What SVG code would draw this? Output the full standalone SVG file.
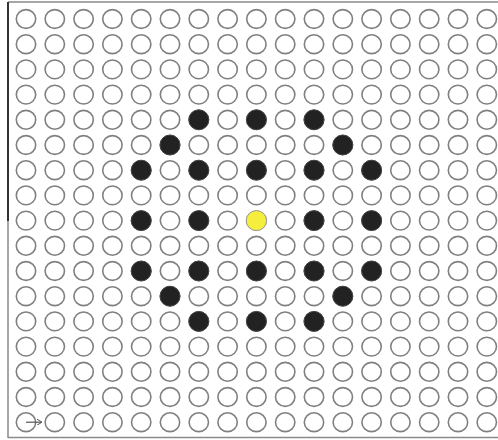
<svg xmlns="http://www.w3.org/2000/svg" width="498" height="440" viewBox="0 0 498 440">
<defs>
<style>
.c{fill:#fff;stroke:#808080;stroke-width:1.6}
.d{fill:#222;stroke:#444;stroke-width:1}
.y{fill:#f6ee3c;stroke:#999;stroke-width:1}
.frame{stroke:#8a8a8a;stroke-width:1.5;fill:none}
</style>
<marker id="ah" markerWidth="6" markerHeight="6" refX="5" refY="3" orient="auto" markerUnits="userSpaceOnUse"><path d="M0,0 L5,3 L0,6" fill="none" stroke="#555" stroke-width="1"/></marker>
<ellipse id="o" class="c" cx="0" cy="0" rx="9.7" ry="9.4"/>
<g id="row">
<use href="#o" x="26"/><use href="#o" x="54.8"/><use href="#o" x="83.6"/><use href="#o" x="112.4"/><use href="#o" x="141.2"/><use href="#o" x="170"/><use href="#o" x="198.8"/><use href="#o" x="227.6"/><use href="#o" x="256.4"/><use href="#o" x="285.2"/><use href="#o" x="314"/><use href="#o" x="342.8"/><use href="#o" x="371.6"/><use href="#o" x="400.4"/><use href="#o" x="429.2"/><use href="#o" x="458"/><use href="#o" x="486.8"/>
</g>
</defs>
<rect width="498" height="440" fill="#fff"/>
<g id="frame">
<line class="frame" x1="8" y1="2" x2="498" y2="2"/>
<line class="frame" x1="8" y1="437.5" x2="498" y2="437.5"/>
<line class="frame" x1="8" y1="2" x2="8" y2="438"/>
<line x1="8" y1="2" x2="8" y2="221" stroke="#333" stroke-width="2"/>
</g>
<g id="grid">
<use href="#row" y="19"/><use href="#row" y="44.2"/><use href="#row" y="69.4"/><use href="#row" y="94.6"/><use href="#row" y="119.8"/><use href="#row" y="145"/><use href="#row" y="170.2"/><use href="#row" y="195.4"/><use href="#row" y="220.6"/><use href="#row" y="245.8"/><use href="#row" y="271"/><use href="#row" y="296.2"/><use href="#row" y="321.4"/><use href="#row" y="346.6"/><use href="#row" y="371.8"/><use href="#row" y="397"/><use href="#row" y="422.2"/>
</g>
<g id="dark">
<ellipse class="d" cx="198.8" cy="119.8" rx="10" ry="10"/><ellipse class="d" cx="256.4" cy="119.8" rx="10" ry="10"/><ellipse class="d" cx="314" cy="119.8" rx="10" ry="10"/>
<ellipse class="d" cx="170" cy="145" rx="10" ry="10"/><ellipse class="d" cx="342.8" cy="145" rx="10" ry="10"/>
<ellipse class="d" cx="141.2" cy="170.2" rx="10" ry="10"/><ellipse class="d" cx="198.8" cy="170.2" rx="10" ry="10"/><ellipse class="d" cx="256.4" cy="170.2" rx="10" ry="10"/><ellipse class="d" cx="314" cy="170.2" rx="10" ry="10"/><ellipse class="d" cx="371.6" cy="170.2" rx="10" ry="10"/>
<ellipse class="d" cx="141.2" cy="220.6" rx="10" ry="10"/><ellipse class="d" cx="198.8" cy="220.6" rx="10" ry="10"/><ellipse class="d" cx="314" cy="220.6" rx="10" ry="10"/><ellipse class="d" cx="371.6" cy="220.6" rx="10" ry="10"/>
<ellipse class="d" cx="141.2" cy="271" rx="10" ry="10"/><ellipse class="d" cx="198.8" cy="271" rx="10" ry="10"/><ellipse class="d" cx="256.4" cy="271" rx="10" ry="10"/><ellipse class="d" cx="314" cy="271" rx="10" ry="10"/><ellipse class="d" cx="371.6" cy="271" rx="10" ry="10"/>
<ellipse class="d" cx="170" cy="296.2" rx="10" ry="10"/><ellipse class="d" cx="342.8" cy="296.2" rx="10" ry="10"/>
<ellipse class="d" cx="198.8" cy="321.4" rx="10" ry="10"/><ellipse class="d" cx="256.4" cy="321.4" rx="10" ry="10"/><ellipse class="d" cx="314" cy="321.4" rx="10" ry="10"/>
</g>
<g id="center">
<ellipse class="y" cx="256.4" cy="220.6" rx="10.2" ry="10"/>
</g>
<g id="connectors">
<line x1="26" y1="422.2" x2="42" y2="422.2" stroke="#555" stroke-width="1.2" marker-end="url(#ah)"/>
</g>
</svg>
